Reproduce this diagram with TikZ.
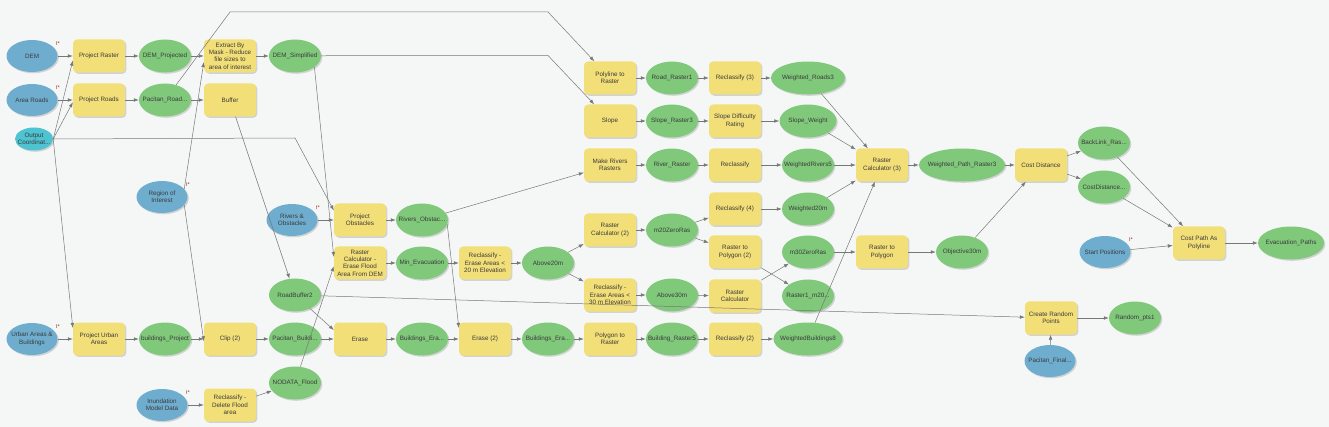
\documentclass[tikz,border=0pt]{standalone}
\usepackage{fontspec}
\setmainfont{Liberation Sans}
\usepackage{tikz}
\usetikzlibrary{arrows.meta,shapes.geometric,shadows}
\usepackage{xcolor}
\definecolor{mbback}{HTML}{F5F7F7}
\definecolor{mbyellow}{HTML}{F3DF78}
\definecolor{mbgreen}{HTML}{80C97B}
\definecolor{mbblue}{HTML}{6FADCF}
\definecolor{mbcyan}{HTML}{4EC3D1}
\definecolor{mbline}{HTML}{777777}
\definecolor{mbtext}{HTML}{3A3A3A}
\definecolor{mbmark}{HTML}{8E2F1F}
\newcommand{\mbfont}{\fontsize{6.3}{7.3}\selectfont}

\begin{document}
\begin{tikzpicture}[
    x=1pt, y=-1pt,
    tool/.style={rectangle, rounded corners=4pt, fill=mbyellow, minimum width=52pt, minimum height=33pt, inner sep=1pt, align=center, font=\mbfont, text=mbtext, drop shadow={shadow xshift=1.3pt, shadow yshift=-1.3pt, opacity=.3}},
    data/.style={ellipse, minimum width=52pt, minimum height=33pt, inner xsep=-20pt, inner ysep=0pt, align=center, font=\mbfont, text=mbtext, drop shadow={shadow xshift=1.3pt, shadow yshift=-1.3pt, opacity=.3}},
    derived/.style={data, fill=mbgreen},
    source/.style={data, fill=mbblue, minimum width=51pt, minimum height=32pt},
    imark/.style={xshift=26pt, yshift=12pt, font=\fontsize{5.5}{6}\selectfont, text=mbmark, inner sep=0pt, fill=none, draw=none},
    req/.style={label={[imark]center:I*}},
    arr/.style={-{Latex[length=5pt,width=3.6pt]}, draw=mbline, line width=.5pt}
]
\fill[mbback] (0,0) rectangle (1329,427);
\useasboundingbox (0,0) rectangle (1329,427);

\node[source, req] (dem) at (32,56) {DEM};
\node[source, req] (roads) at (32,100) {Area Roads};
\node[source, fill=mbcyan, minimum width=38pt, minimum height=23pt] (coord) at (34,139) {Output\\Coordinat...};
\node[source, req] (urban) at (32,339) {Urban Areas \&\\Buildings};
\node[source, req] (region) at (162,197) {Region of\\Interest};
\node[source, req] (inund) at (162,405) {Inundation\\Model Data};
\node[source, req] (rivers) at (292,220) {Rivers \&\\Obstacles};
\node[source, req] (startpos) at (1105,252) {Start Positions};
\node[source] (pacfinal) at (1050,361) {Pacitan\_Final...};

\node[tool] (projraster) at (99,56) {Project Raster};
\node[tool] (projroads) at (99,100) {Project Roads};
\node[tool] (extract) at (230,56) {Extract By\\Mask - Reduce\\file sizes to\\area of interest};
\node[tool] (buffer) at (230,100) {Buffer};
\node[tool] (projurban) at (99,339) {Project Urban\\Areas};
\node[tool] (clip) at (230,339) {Clip (2)};
\node[tool] (reclflood) at (230,405) {Reclassify -\\Delete Flood\\area};
\node[tool] (projobst) at (360,220) {Project\\Obstacles};
\node[tool] (rcflood) at (360,263) {Raster\\Calculator -\\Erase Flood\\Area From DEM};
\node[tool] (erase) at (360,339) {Erase};
\node[tool] (recl20) at (485,263) {Reclassify -\\Erase Areas <\\20 m Elevation};
\node[tool] (erase2) at (485,339) {Erase (2)};
\node[tool] (polyras) at (610,78) {Polyline to\\Raster};
\node[tool] (slope) at (610,121) {Slope};
\node[tool] (mkrivers) at (610,165) {Make Rivers\\Rasters};
\node[tool] (rc2) at (610,230) {Raster\\Calculator (2)};
\node[tool] (recl30) at (610,295) {Reclassify -\\Erase Areas <\\30 m Elevation};
\node[tool] (polytoras) at (610,339) {Polygon to\\Raster};
\node[tool] (recl3) at (735,78) {Reclassify (3)};
\node[tool] (slopediff) at (735,121) {Slope Difficulty\\Rating};
\node[tool] (recl) at (735,165) {Reclassify};
\node[tool] (recl4) at (735,209) {Reclassify (4)};
\node[tool] (rastopoly2) at (735,252) {Raster to\\Polygon (2)};
\node[tool] (rc) at (735,296) {Raster\\Calculator};
\node[tool] (recl2) at (735,339) {Reclassify (2)};
\node[tool] (rc3) at (882,165) {Raster\\Calculator (3)};
\node[tool] (rastopoly) at (882,252) {Raster to\\Polygon};
\node[tool] (costdist) at (1041,165) {Cost Distance};
\node[tool] (costpath) at (1199,243) {Cost Path As\\Polyline};
\node[tool] (randpts) at (1051,318) {Create Random\\Points};

\node[derived] (demproj) at (165,56) {DEM\_Projected};
\node[derived] (pacroad) at (165,100) {Pacitan\_Road...};
\node[derived] (demsimp) at (295,56) {DEM\_Simplified};
\node[derived] (bldproj) at (165,339) {buildings\_Project};
\node[derived] (pacbld) at (295,339) {Pacitan\_Buildi...};
\node[derived] (roadbuf) at (295,295) {RoadBuffer2};
\node[derived] (nodata) at (295,383) {NODATA\_Flood};
\node[derived] (rivobst) at (422,220) {Rivers\_Obstac...};
\node[derived] (minevac) at (422,263) {Min\_Evacuation};
\node[derived] (blderase) at (422,339) {Buildings\_Era...};
\node[derived] (above20) at (548,263) {Above20m};
\node[derived] (blderase2) at (548,339) {Buildings\_Era...};
\node[derived] (roadras) at (672,78) {Road\_Raster1};
\node[derived] (sloperas) at (672,121) {Slope\_Raster3};
\node[derived] (riverras) at (672,165) {River\_Raster};
\node[derived] (m20) at (672,230) {m20ZeroRas};
\node[derived] (above30) at (672,295) {Above30m};
\node[derived] (bldras) at (672,339) {Building\_Raster5};
\node[derived, minimum width=74pt] (wroads) at (808,78) {Weighted\_Roads3};
\node[derived, minimum width=57pt] (sweight) at (808,121) {Slope\_Weight};
\node[derived] (wrivers) at (808,165) {WeightedRivers5};
\node[derived] (w20) at (808,209) {Weighted20m};
\node[derived] (m30) at (808,252) {m30ZeroRas};
\node[derived] (raster1) at (808,296) {Raster1\_m20...};
\node[derived, minimum width=69pt] (wbld) at (808,339) {WeightedBuildings8};
\node[derived, minimum width=86pt] (wpath) at (962,165) {Weighted\_Path\_Raster3};
\node[derived] (obj30) at (962,252) {Objective30m};
\node[derived] (backlink) at (1104,143) {BackLink\_Ras...};
\node[derived] (costdistr) at (1104,187) {CostDistance...};
\node[derived, minimum width=66pt] (evac) at (1291,243) {Evacuation\_Paths};
\node[derived] (randout) at (1135,318) {Random\_pts1};

\coordinate (roadbendA) at (230,12);
\coordinate (roadbendB) at (548,12);
\coordinate (slopebendA) at (358,55.5);
\coordinate (slopebendB) at (548,55.5);
\coordinate (obstbend) at (295,138);

\draw[arr] (dem) -- (projraster);
\draw[arr] (roads) -- (projroads);
\draw[arr] (urban) -- (projurban);
\draw[arr] (coord.east) -- (projraster.190);
\draw[arr] (coord.east) -- (projroads.185);
\draw[arr] (coord.east) -- (projurban.157);
\draw[arr] (coord.east) -- (obstbend) -- (projobst.160);
\draw[arr] (projraster) -- (demproj);
\draw[arr] (demproj) -- (extract);
\draw[arr] (extract) -- (demsimp);
\draw[arr] (projroads) -- (pacroad);
\draw[arr] (pacroad) -- (buffer);
\draw[arr] (pacroad) -- (roadbendA) -- (roadbendB) -- (polyras);
\draw[arr] (demsimp) -- (slopebendA) -- (slopebendB) -- (slope);
\draw[arr] (demsimp.-30) -- (rcflood.167);
\draw[arr] (region.20) -- (extract.193);
\draw[arr] (region.-20) -- (clip.185);
\draw[arr] (projurban) -- (bldproj);
\draw[arr] (bldproj) -- (clip);
\draw[arr] (clip) -- (pacbld);
\draw[arr] (inund) -- (reclflood);
\draw[arr] (reclflood) -- (nodata);
\draw[arr] (nodata) -- (rcflood.187);
\draw[arr] (buffer) -- (roadbuf);
\draw[arr] (rivers) -- (projobst);
\draw[arr] (projobst) -- (rivobst);
\draw[arr] (rivobst) -- (mkrivers);
\draw[arr] (rivobst.-10) -- (erase2.157);
\draw[arr] (rcflood) -- (minevac);
\draw[arr] (minevac) -- (recl20);
\draw[arr] (recl20) -- (above20);
\draw[arr] (above20) -- (rc2);
\draw[arr] (above20) -- (recl30);
\draw[arr] (roadbuf) -- (erase.161);
\draw[arr] (roadbuf) -- (randpts);
\draw[arr] (pacbld) -- (erase);
\draw[arr] (erase) -- (blderase);
\draw[arr] (blderase) -- (erase2);
\draw[arr] (erase2) -- (blderase2);
\draw[arr] (blderase2) -- (polytoras);
\draw[arr] (polytoras) -- (bldras);
\draw[arr] (bldras) -- (recl2);
\draw[arr] (recl2) -- (wbld);
\draw[arr] (polyras) -- (roadras);
\draw[arr] (roadras) -- (recl3);
\draw[arr] (recl3) -- (wroads);
\draw[arr] (slope) -- (sloperas);
\draw[arr] (sloperas) -- (slopediff);
\draw[arr] (slopediff) -- (sweight);
\draw[arr] (mkrivers) -- (riverras);
\draw[arr] (riverras) -- (recl);
\draw[arr] (recl) -- (wrivers);
\draw[arr] (rc2) -- (m20);
\draw[arr] (m20) -- (recl4);
\draw[arr] (m20) -- (rastopoly2);
\draw[arr] (recl4) -- (w20);
\draw[arr] (rastopoly2) -- (raster1);
\draw[arr] (recl30) -- (above30);
\draw[arr] (above30) -- (rc);
\draw[arr] (rc) -- (m30);
\draw[arr] (m30) -- (rastopoly);
\draw[arr] (rastopoly) -- (obj30);
\draw[arr] (wroads) -- (rc3);
\draw[arr] (sweight) -- (rc3);
\draw[arr] (wrivers) -- (rc3);
\draw[arr] (w20) -- (rc3);
\draw[arr] (wbld) -- (rc3);
\draw[arr] (rc3) -- (wpath);
\draw[arr] (wpath) -- (costdist);
\draw[arr] (obj30) -- (costdist);
\draw[arr] (costdist) -- (backlink);
\draw[arr] (costdist) -- (costdistr);
\draw[arr] (backlink) -- (costpath);
\draw[arr] (costdistr) -- (costpath);
\draw[arr] (startpos) -- (costpath);
\draw[arr] (costpath) -- (evac);
\draw[arr] (randpts) -- (randout);
\draw[arr] (pacfinal) -- (randpts);
\end{tikzpicture}
\end{document}
